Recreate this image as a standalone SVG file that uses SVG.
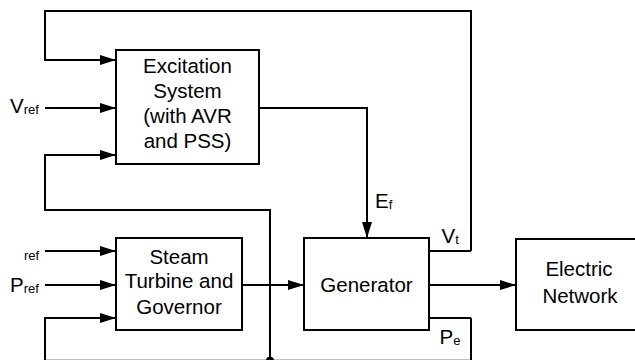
<svg xmlns="http://www.w3.org/2000/svg" width="635" height="360" viewBox="0 0 635 360">
<style>
.box{fill:#fff;stroke:#000;stroke-width:2}
.ln{fill:none;stroke:#000;stroke-width:2}
.t{font-family:"Liberation Sans",Arial,sans-serif;font-size:20.5px;fill:#000;text-anchor:middle}
.lb{font-family:"Liberation Sans",Arial,sans-serif;font-size:20.5px;fill:#000}
.sub{font-size:13px}
</style>
<defs>
<marker id="ah" markerUnits="userSpaceOnUse" markerWidth="17" markerHeight="11" refX="16" refY="5.5" orient="auto">
<path d="M0,0.5 L16,5.5 L0,10.5 z" fill="#000"/>
</marker>
</defs>
<rect width="635" height="360" fill="#fff"/>
<g id="connectors">
<polyline class="ln" points="471,251 471,11 45,11 45,60 116,60" marker-end="url(#ah)"/>
<line class="ln" x1="45" y1="108" x2="116" y2="108" marker-end="url(#ah)"/>
<polyline class="ln" points="270,360.8 270,210 45,210 45,155 116,155" marker-end="url(#ah)"/>
<polyline class="ln" points="259,108 367,108 367,238" marker-end="url(#ah)"/>
<line class="ln" x1="45" y1="251" x2="116" y2="251" marker-end="url(#ah)"/>
<line class="ln" x1="45" y1="285" x2="116" y2="285" marker-end="url(#ah)"/>
<polyline class="ln" points="471,318 471,360.8 45,360.8 45,318 116,318" marker-end="url(#ah)"/>
<line class="ln" x1="242" y1="285" x2="304" y2="285" marker-end="url(#ah)"/>
<line class="ln" x1="429" y1="285" x2="516" y2="285" marker-end="url(#ah)"/>
<line class="ln" x1="429" y1="251" x2="471" y2="251"/>
<line class="ln" x1="429" y1="318" x2="471" y2="318"/>
<circle cx="270" cy="360.8" r="4" fill="#000"/>
</g>
<g id="excitation">
<rect class="box" x="116" y="50" width="143" height="114"/>
<text class="t" x="187.5" y="72.5">Excitation</text>
<text class="t" x="187.5" y="97.8">System</text>
<text class="t" x="187.5" y="123.1">(with AVR</text>
<text class="t" x="187.5" y="148.4">and PSS)</text>
</g>
<g id="steam">
<rect class="box" x="116" y="238" width="126" height="92"/>
<text class="t" x="179" y="264.3">Steam</text>
<text class="t" x="179" y="288">Turbine and</text>
<text class="t" x="179" y="314">Governor</text>
</g>
<g id="generator">
<rect class="box" x="304" y="238" width="125" height="92"/>
<text class="t" x="366.5" y="291.7">Generator</text>
</g>
<g id="network">
<rect class="box" x="516" y="239" width="130" height="91"/>
<text class="t" x="579" y="275.7">Electric</text>
<text class="t" x="580" y="303.3">Network</text>
</g>
<g id="labels">
<text class="lb" x="10" y="113.3">V<tspan class="sub" dy="1">ref</tspan></text>
<text class="lb sub" x="24" y="260">ref</text>
<text class="lb" x="10" y="291.5">P<tspan class="sub" dy="1">ref</tspan></text>
<text class="lb" x="375" y="208.3">E<tspan class="sub" dy="1">f</tspan></text>
<text class="lb" x="441.5" y="243.3">V<tspan class="sub" dy="1">t</tspan></text>
<text class="lb" x="439.5" y="344.3">P<tspan class="sub" dy="1">e</tspan></text>
</g>
</svg>
